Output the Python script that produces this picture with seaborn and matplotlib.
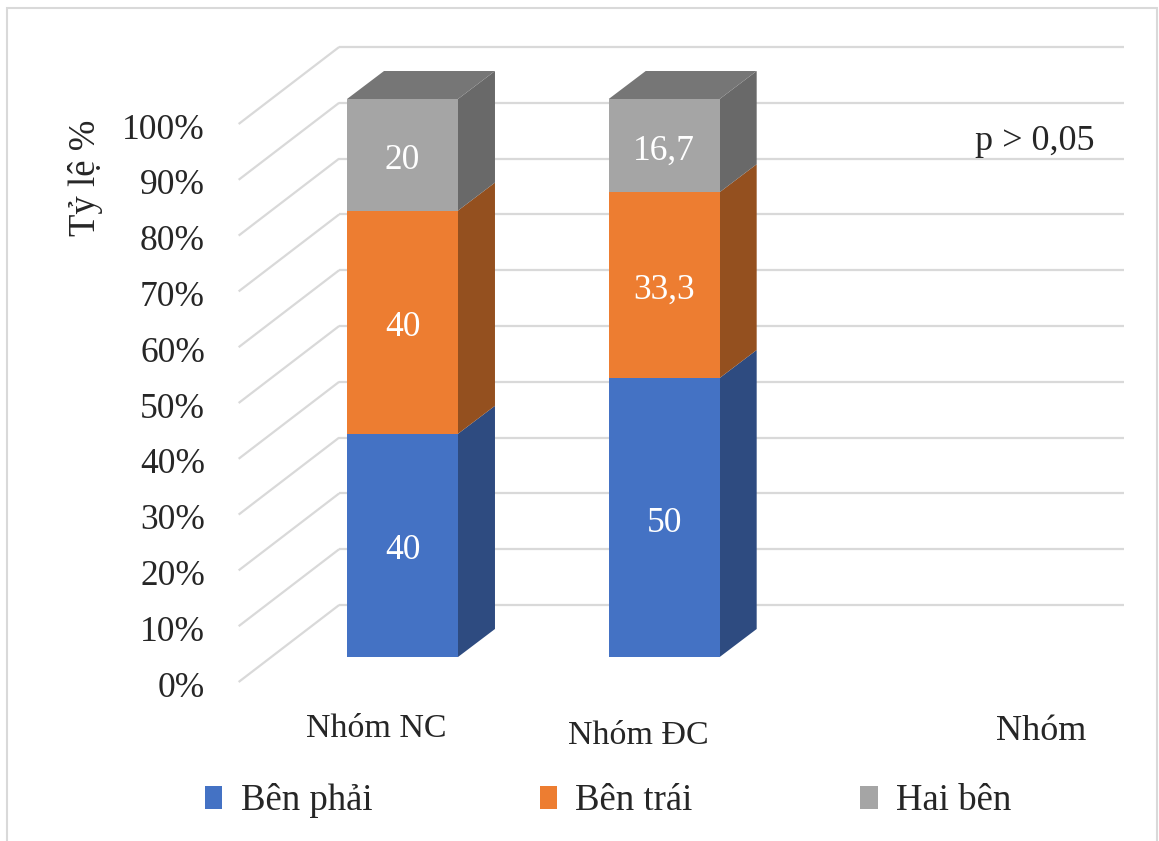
import numpy as np
import pandas as pd
import matplotlib
matplotlib.use("Agg")
import matplotlib.pyplot as plt
from matplotlib.patches import Polygon, Patch, Rectangle
import seaborn as sns

# du lieu
groups = ["Nhóm NC", "Nhóm ĐC"]
series = ["Bên phải", "Bên trái", "Hai bên"]
ben_phai = [40, 50]
ben_trai = [40, 33.3]
hai_ben = [20, 16.7]
labels_phai = ["40", "50"]
labels_trai = ["40", "33,3"]
labels_hai = ["20", "16,7"]
ticks = list(range(0, 101, 10))

front_cols = ["#4472C4", "#ED7D31", "#A5A5A5"]
side_cols = ["#2E4B80", "#94501F", "#696969"]
top_col = "#767676"
grid_col = "#D9D9D9"

sns.set_style("white")
plt.rcParams["font.family"] = ["Liberation Serif", "DejaVu Serif"]

W, H = 1159, 841
fig = plt.figure(figsize=(W / 100, H / 100), dpi=100)
ax = fig.add_axes([0, 0, 1, 1])

# khung nhin: pixel cho 1 nhom va 1 %
px_x, px_y = 261.7, 5.58
ox, oy = 402.5, 657
bar_w = 0.424
# do sau cua cot (mat ben) va cua tuong sau / mat truoc
dep_x, dep_y = 37 / px_x, 28 / px_y
back_x, back_y = 67.5 / px_x, 52 / px_y
front_x, front_y = -33 / px_x, -25 / px_y

df = pd.DataFrame({"nhom": groups, "phai": ben_phai, "trai": ben_trai, "hai": hai_ben})
df["c1"] = df["phai"]
df["c2"] = df["phai"] + df["trai"]
df["c3"] = df["c2"] + df["hai"]

# luoi: tuong sau + duong cheo ben trai
for v in ticks:
    yb = v + back_y
    ax.plot([-0.5 + back_x, 2.5 + back_x], [yb, yb], color=grid_col, lw=1.6, zorder=0.5,
            solid_capstyle="butt")
    ax.plot([-0.5 + back_x, -0.5 + front_x], [yb, v + front_y], color=grid_col, lw=1.6,
            zorder=0.5, solid_capstyle="butt")
    ax.text(-0.755, v + front_y - 1.1, f"{v}%", ha="right", va="center", fontsize=25.5)

# mat truoc cot
for col, c in zip(["c3", "c2", "c1"], front_cols[::-1]):
    sns.barplot(data=df, x="nhom", y=col, color=c, width=bar_w, saturation=1,
                linewidth=0, ax=ax, zorder=3)

# mat ben va mat tren
for i, row in df.iterrows():
    xl, xr = i - bar_w / 2, i + bar_w / 2
    bounds = [0, row["c1"], row["c2"], row["c3"]]
    for k in range(3):
        y0, y1 = bounds[k], bounds[k + 1]
        ax.add_patch(Polygon([(xr, y0), (xr + dep_x, y0 + dep_y), (xr + dep_x, y1 + dep_y),
                              (xr, y1)], closed=True, facecolor=side_cols[k],
                             edgecolor="none", zorder=2))
    top = row["c3"]
    ax.add_patch(Polygon([(xl, top), (xr, top), (xr + dep_x, top + dep_y),
                          (xl + dep_x, top + dep_y)], closed=True, facecolor=top_col,
                         edgecolor="none", zorder=2))
    labs = [labels_phai[i], labels_trai[i], labels_hai[i]]
    for k in range(3):
        ax.text(i, (bounds[k] + bounds[k + 1]) / 2 - 1.0, labs[k], ha="center", va="center",
                color="white", fontsize=25.5, zorder=4)

# nhan nhom
cat_y = [-12.8, -14.1]
for i, g in enumerate(groups):
    ax.text(i - 0.10, cat_y[i], g, ha="center", va="center", fontsize=24.5)
ax.text(2.44, -13.3, "Nhóm", ha="center", va="center", fontsize=26)
ax.text(-1.21, 85.8, "Tỷ lệ %", ha="center", va="center", rotation=90, fontsize=26.5)
ax.text(2.417, 92.3, "p > 0,05", ha="center", va="center", fontsize=26)

ax.set_xlim(-ox / px_x, (W - ox) / px_x)
ax.set_ylim(-(H - oy) / px_y, oy / px_y)
ax.set_axis_off()

handles = [Patch(facecolor=c, edgecolor="none", label=s) for c, s in zip(front_cols, series)]
fig.legend(handles=handles, loc="center left", bbox_to_anchor=(205 / W, 1 - 801 / H),
           ncol=3, frameon=False, fontsize=26.5, handlelength=0.47, handleheight=0.6,
           handletextpad=0.5, columnspacing=4.55, borderpad=0, borderaxespad=0)

fig.patches.append(Rectangle((7 / W, -0.01), (1157 - 7) / W, 1 - 8 / H + 0.01,
                             transform=fig.transFigure, fill=False, edgecolor=grid_col,
                             lw=1.5))

fig.savefig("out.png", dpi=100)
